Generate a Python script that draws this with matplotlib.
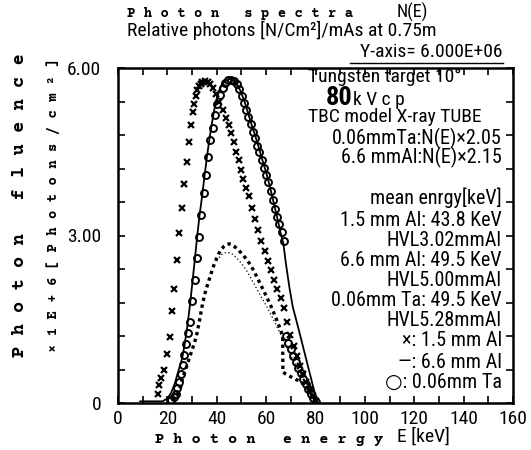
import matplotlib
matplotlib.use("Agg")
import matplotlib.pyplot as plt
from matplotlib.lines import Line2D
from matplotlib.ticker import MultipleLocator

# 1.5 mm Al (x markers)
al15_e = [16.0, 16.6, 17.6, 18.8, 20.0, 21.1, 21.8, 22.7, 23.8, 24.8, 25.9, 26.9,
          27.8, 28.6, 29.5, 30.2, 30.9, 31.5, 32.0, 32.9, 33.6, 34.2, 35.2, 36.3,
          37.3, 38.6, 39.8, 41.0, 42.4, 43.7, 44.8, 45.8, 46.8, 47.8, 48.9, 49.8,
          50.7, 51.7, 52.9, 54.2, 55.5, 56.8, 58.1, 59.4, 60.7, 62.0, 63.3, 64.6,
          65.9, 67.2, 68.5, 69.8, 71.1, 72.4, 73.7, 75.0, 76.3, 77.6, 78.9, 80.0]
al15_n = [0.17, 0.32, 0.45, 0.59, 0.88, 1.19, 1.64, 2.05, 2.56, 3.04, 3.49, 3.93,
          4.32, 4.68, 4.98, 5.22, 5.36, 5.50, 5.60, 5.68, 5.72, 5.75, 5.76, 5.75,
          5.72, 5.64, 5.53, 5.40, 5.25, 5.10, 4.98, 4.83, 4.68, 4.50, 4.35, 4.17,
          4.02, 3.85, 3.70, 3.50, 3.30, 3.10, 2.90, 2.72, 2.55, 2.38, 2.21, 2.04,
          1.88, 1.70, 1.45, 1.22, 1.02, 0.84, 0.67, 0.52, 0.38, 0.25, 0.13, 0.04]

# 6.6 mm Al x 2.15 (solid line)
al66s_e = [9.0, 18.0, 20.0, 21.5, 23.0, 24.5, 26.0, 27.0, 28.0, 29.0, 30.0, 31.0,
           32.0, 33.0, 34.0, 35.0, 36.0, 37.0, 38.0, 39.0, 40.0, 41.0, 42.0, 43.5,
           45.0, 46.5, 48.0, 49.5, 51.0, 52.5, 54.0, 55.5, 57.0, 58.5, 60.0, 61.5,
           63.0, 64.5, 66.0, 67.0, 68.0, 69.5, 70.8, 73.0, 75.0, 77.0, 79.0, 80.3]
al66s_n = [0.03, 0.03, 0.08, 0.18, 0.35, 0.58, 0.80, 1.05, 1.35, 1.70, 2.10, 2.52,
           2.95, 3.35, 3.68, 4.05, 4.40, 4.72, 5.00, 5.25, 5.45, 5.60, 5.70, 5.77,
           5.80, 5.79, 5.72, 5.60, 5.43, 5.22, 5.00, 4.80, 4.58, 4.35, 4.13, 3.88,
           3.60, 3.32, 3.02, 2.85, 2.50, 2.05, 1.72, 1.35, 1.00, 0.65, 0.30, 0.08]

# 0.06 mm Ta x 2.05 (open circles)
ta_e = [21.5, 22.5, 23.3, 24.1, 24.8, 25.5, 26.2, 26.9, 27.6, 28.3, 29.0, 30.0,
        31.0, 32.0, 33.0, 33.8, 34.7, 35.6, 36.5, 37.4, 38.3, 39.3, 40.3, 41.3,
        42.4, 43.5, 44.7, 45.9, 47.1, 48.2, 49.2, 50.1, 51.0, 51.9, 52.8, 53.7,
        54.6, 55.5, 56.4, 57.3, 58.2, 59.1, 60.0, 60.9, 61.8, 62.7, 63.6, 64.5,
        65.4, 66.3, 67.2, 68.0, 69.0, 70.0, 71.0, 72.0, 73.0, 74.0, 75.0, 76.0,
        77.0, 78.0, 79.0, 80.0]
ta_n = [0.05, 0.10, 0.17, 0.27, 0.38, 0.52, 0.68, 0.86, 1.05, 1.25, 1.45, 1.82,
        2.20, 2.59, 2.98, 3.37, 3.76, 4.08, 4.41, 4.71, 4.93, 5.15, 5.35, 5.52,
        5.64, 5.73, 5.78, 5.79, 5.77, 5.71, 5.62, 5.50, 5.37, 5.25, 5.13, 5.00,
        4.86, 4.74, 4.61, 4.49, 4.36, 4.21, 4.08, 3.95, 3.80, 3.64, 3.48, 3.33,
        3.20, 3.07, 2.90, 1.20, 1.08, 0.96, 0.85, 0.74, 0.63, 0.53, 0.43, 0.34,
        0.25, 0.17, 0.09, 0.02]

# 0.06 mm Ta, unscaled (thick dots)
ta_raw_e = [22.0, 24.0, 25.5, 26.0, 27.0, 28.0, 29.0, 30.0, 31.0, 32.0, 33.0, 34.0,
            35.0, 36.0, 37.0, 38.0, 39.0, 40.0, 41.0, 42.0, 43.0, 44.0, 45.0, 46.0,
            47.0, 48.0, 49.0, 50.0, 52.0, 54.0, 56.0, 58.0, 60.0, 62.0, 64.0, 65.5,
            66.7, 66.8, 70.0, 74.0, 77.0, 80.0]
ta_raw_n = [0.05, 0.15, 0.30, 0.42, 0.55, 0.68, 0.82, 0.95, 1.08, 1.25, 1.47, 1.72,
            1.93, 2.08, 2.22, 2.36, 2.49, 2.60, 2.69, 2.76, 2.81, 2.84, 2.85, 2.84,
            2.81, 2.77, 2.73, 2.68, 2.58, 2.45, 2.28, 2.10, 1.92, 1.73, 1.52, 1.35,
            1.20, 0.55, 0.47, 0.38, 0.25, 0.05]

# 6.6 mm Al, unscaled (thin dots)
al66_e = [40.0, 42.0, 44.0, 46.0, 48.0, 50.0, 52.0, 54.0, 56.0, 58.0, 60.0, 62.0,
          64.0, 66.0, 68.0, 70.0, 72.0, 74.0, 76.0, 78.0, 80.0]
al66_n = [2.55, 2.66, 2.70, 2.68, 2.60, 2.50, 2.38, 2.22, 2.06, 1.90, 1.75, 1.58,
          1.40, 1.22, 1.02, 0.85, 0.68, 0.52, 0.36, 0.20, 0.04]

x_ticks = [0, 20, 40, 60, 80, 100, 120, 140, 160]
y_ticks = [0, 3, 6]
y_tick_labels = ["0", "3.00", "6.00"]

W, H = 531, 450
NARROW = ["Roboto Condensed", "DejaVu Sans"]
MONO = ["Courier Prime", "DejaVu Sans Mono"]


def px(x, y):
    return x / W, 1 - y / H


fig = plt.figure(figsize=(W / 100, H / 100), dpi=100)
ax = fig.add_axes([118 / W, 1 - 403 / H, (513 - 118) / W, (403 - 68) / H])

ax.plot(al66s_e, al66s_n, color="black", lw=1.3)
ax.plot(ta_raw_e, ta_raw_n, color="black", lw=2.4, linestyle=(0, (1, 1.1)))
ax.plot(al66_e, al66_n, color="black", lw=0.9, linestyle=(0, (1, 2)))
ax.plot(ta_e, ta_n, linestyle="none", marker="o", markersize=5, mfc="none",
        mec="black", mew=1.4)
ax.plot(al15_e, al15_n, linestyle="none", marker="x", markersize=4.5,
        color="black", mew=1.6)

ax.set_xlim(0, 160)
ax.set_ylim(0, 6)
ax.set_xticks(x_ticks)
ax.xaxis.set_minor_locator(MultipleLocator(10))
ax.set_yticks(y_ticks)
ax.set_yticklabels(y_tick_labels)
ax.yaxis.set_minor_locator(MultipleLocator(0.6))
ax.tick_params(which="both", direction="in", top=True, right=True,
               length=5, width=1.2)
ax.tick_params(axis="x", labelsize=14, pad=5)
ax.tick_params(axis="y", labelsize=14, pad=12)
for lab in ax.get_xticklabels() + ax.get_yticklabels():
    lab.set_family(NARROW)
for s in ax.spines.values():
    s.set_linewidth(1.8)

# titles
fig.text(*px(127, 14), "P h o t o n   s p e c t r a", family=MONO,
         fontsize=10, fontweight="bold", va="center")
fig.text(*px(397, 12), "N(E)", family=NARROW, fontsize=13, va="center")
fig.text(*px(127, 30), "Relative photons [N/Cm²]/mAs at 0.75m", family=NARROW,
         fontsize=14, va="center")
fig.text(*px(503, 52), "Y-axis= 6.000E+06", family=NARROW, fontsize=14,
         va="center", ha="right")
fig.add_artist(Line2D([350 / W, 503 / W], [1 - 63 / H, 1 - 63 / H],
                      color="black", lw=1.0, transform=fig.transFigure))

# axis labels
fig.text(*px(20, 205), "P h o t o n   f l u e n c e", family=MONO,
         fontsize=13.5, fontweight="bold", rotation=90, ha="center",
         va="center")
fig.text(*px(53, 205), "× 1 E + 6 [ P h o t o n s / c m ² ]", family=MONO,
         fontsize=10, fontweight="bold", rotation=90, ha="center",
         va="center")
fig.text(*px(155, 440), "P h o t o n   e n e r g y", family=MONO,
         fontsize=11, fontweight="bold", va="center")
fig.text(*px(397, 437), "E [keV]", family=NARROW, fontsize=14, va="center")

# notes inside the plot
fig.text(*px(308, 77), "Tungsten target 10°", family=NARROW, fontsize=14,
         va="center")
fig.text(*px(326, 98), "80", family=NARROW, fontsize=19, fontweight="bold",
         va="center")
fig.text(*px(353, 100), "k V c p", family=NARROW, fontsize=14, va="center")
fig.text(*px(308, 117), "TBC model X-ray TUBE", family=NARROW, fontsize=14,
         va="center")

notes = [
    ("0.06mmTa:N(E)×2.05", 138),
    ("6.6 mmAl:N(E)×2.15", 157),
    ("mean enrgy[keV]", 198),
    ("1.5 mm Al: 43.8 KeV", 220),
    ("HVL3.02mmAl", 240),
    ("6.6 mm Al: 49.5 KeV", 260),
    ("HVL5.00mmAl", 280),
    ("0.06mm Ta: 49.5 KeV", 300),
    ("HVL5.28mmAl", 320),
    ("×: 1.5 mm Al", 341),
    ("—: 6.6 mm Al", 362),
    ("○: 0.06mm Ta", 382),
]
for txt, yy in notes:
    fig.text(*px(502, yy), txt, family=NARROW, fontsize=14.5, va="center",
             ha="right")

fig.savefig("out.png", dpi=100)
